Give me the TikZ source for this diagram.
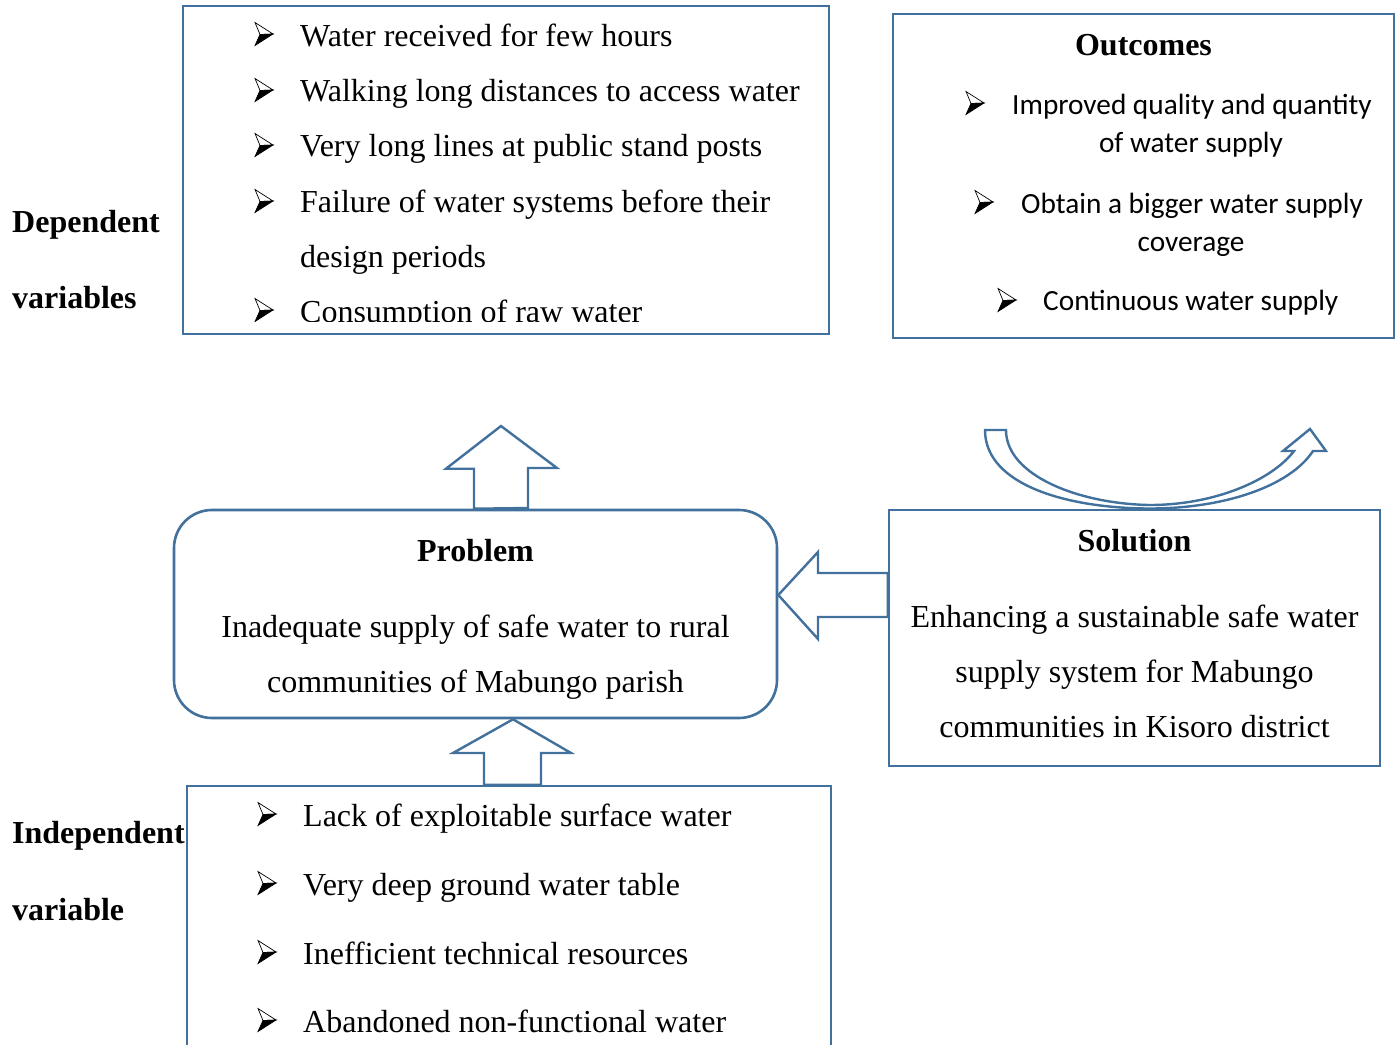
\documentclass[tikz,border=0pt]{standalone}
\usepackage{fontspec}
\setmainfont{Liberation Serif}
\newfontfamily\calib{Carlito}
\usetikzlibrary{calc}
\definecolor{frameblue}{RGB}{65,113,156}

\tikzset{
  frame/.style={draw=frameblue, line width=2.6pt, fill=white, inner sep=0pt},
  blockarrow/.style={draw=frameblue, line width=2.4pt, fill=white, line join=miter},
  serif/.style={inner sep=0pt, font=\fontsize{32}{38}\selectfont},
  sans/.style={inner sep=0pt, font=\calib\fontsize{29.3}{35}\selectfont},
  head/.style={inner sep=0pt, font=\bfseries\fontsize{32}{38}\selectfont},
  bul/.pic={
    \filldraw[fill=white, draw=black, line width=0.7pt, line join=miter]
      (-9,-11.5) -- (9,0) -- (-4,0.5) -- cycle;
    \filldraw[fill=black, draw=black, line width=0.7pt, line join=miter]
      (-4,0.5) -- (9,0) -- (-9,11.5) -- cycle;
  }
}

\begin{document}
\begin{tikzpicture}[x=1pt, y=-1pt]
\clip (0,0) rectangle (1400,1044);
\fill[white] (0,0) rectangle (1400,1044);

% ---- boxes ----
\node[frame, minimum width=646pt, minimum height=328pt] (dep) at (506,170) {};
\node[frame, minimum width=501pt, minimum height=324pt] (out) at (1143.5,176) {};
\node[frame, rounded corners=38pt, minimum width=603pt, minimum height=208pt] (prob) at (475.5,614) {};
\node[frame, minimum width=491pt, minimum height=256pt] (sol) at (1134.5,638) {};
\node[frame, minimum width=644pt, minimum height=320pt] (ind) at (509,946) {};

% ---- block arrows between boxes ----
% problem -> dependent variables
\path (prob.north) ++(25.5,0) coordinate (upA);
\draw[blockarrow] (upA) ++(-27,0) -- ++(0,-40) -- ++(-28,0) -- (501,426)
  -- (557,468) -- (528,468) -- (528,508) -- cycle;

% independent variable -> problem
\draw[blockarrow] (ind.north -| 484,0) -- (484,753) -- (453,753) -- (prob.south -| 513,0)
  -- (571,753) -- (541,753) -- (ind.north -| 541,0) -- cycle;

% solution -> problem
\draw[blockarrow] (sol.west |- 0,573) -- (818,573) -- (818,552) -- (prob.east |- 0,595)
  -- (818,639) -- (818,617) -- (sol.west |- 0,617) -- cycle;

% curved arrow from the solution to the outcomes
\draw[blockarrow] (985,430) -- (1006,430)
  .. controls (1006,476) and (1080,504) .. (1150,505)
  .. controls (1215,505) and (1272,480) .. (1294,451)
  -- (1283,451) -- (1310,429) -- (1326,451) -- (1313,451)
  .. controls (1290,486) and (1225,508.5) .. (1150,508.5)
  .. controls (1070,508.5) and (985,486) .. cycle;

% ---- side labels ----
\node[head, anchor=base west] (lab1) at (12,232) {Dependent};
\node[head, anchor=base west] (lab2) at (12,308) {variables};
\node[head, anchor=base west] (lab3) at (12,843) {Independent};
\node[head, anchor=base west] (lab4) at (12,920) {variable};

% ---- dependent variables ----
\foreach \yy in {46,102,157,213} { \pic at (264,\yy-12) {bul}; }
\node[serif, anchor=base west] (d1) at (300,46) {Water received for few hours};
\node[serif, anchor=base west] (d2) at (300,101) {Walking long distances to access water};
\node[serif, anchor=base west] (d3) at (300,156) {Very long lines at public stand posts};
\node[serif, anchor=base west] (d4) at (300,212) {Failure of water systems before their};
\node[serif, anchor=base west] (d5) at (300,267) {design periods};
\begin{scope}
  \clip (190,290) rectangle (820,321.5);
  \pic at (264,310) {bul};
  \node[serif, anchor=base west] (d6) at (300,322) {Consumption of raw water};
\end{scope}

% ---- outcomes ----
\node[head, anchor=base] (o0) at (1143.5,55) {Outcomes};
\pic at (975,103) {bul};
\node[sans, anchor=base west] (o1) at (1012,114) {Improved quality and quantity};
\node[sans, anchor=base] (o2) at (1191,152) {of water supply};
\pic at (984,202) {bul};
\node[sans, anchor=base west] (o3) at (1021,213) {Obtain a bigger water supply};
\node[sans, anchor=base] (o4) at (1191,251) {coverage};
\pic at (1007,300) {bul};
\node[sans, anchor=base west] (o5) at (1043,310) {Continuous water supply};

% ---- problem ----
\node[head, anchor=base] (p0) at (475.5,561) {Problem};
\node[serif, anchor=base] (p1) at (475.5,637) {Inadequate supply of safe water to rural};
\node[serif, anchor=base] (p2) at (475.5,692) {communities of Mabungo parish};

% ---- solution ----
\node[head, anchor=base] (s0) at (1134.5,551) {Solution};
\node[serif, anchor=base] (s1) at (1134.5,627) {Enhancing a sustainable safe water};
\node[serif, anchor=base] (s2) at (1134.5,682) {supply system for Mabungo};
\node[serif, anchor=base] (s3) at (1134.5,737) {communities in Kisoro district};

% ---- independent variable ----
\foreach \yy in {826,895,964,1032} { \pic at (267,\yy-12) {bul}; }
\node[serif, anchor=base west] (i1) at (303,826) {Lack of exploitable surface water};
\node[serif, anchor=base west] (i2) at (303,895) {Very deep ground water table};
\node[serif, anchor=base west] (i3) at (303,964) {Inefficient technical resources};
\node[serif, anchor=base west] (i4) at (303,1032) {Abandoned non-functional water};
\end{tikzpicture}
\end{document}
